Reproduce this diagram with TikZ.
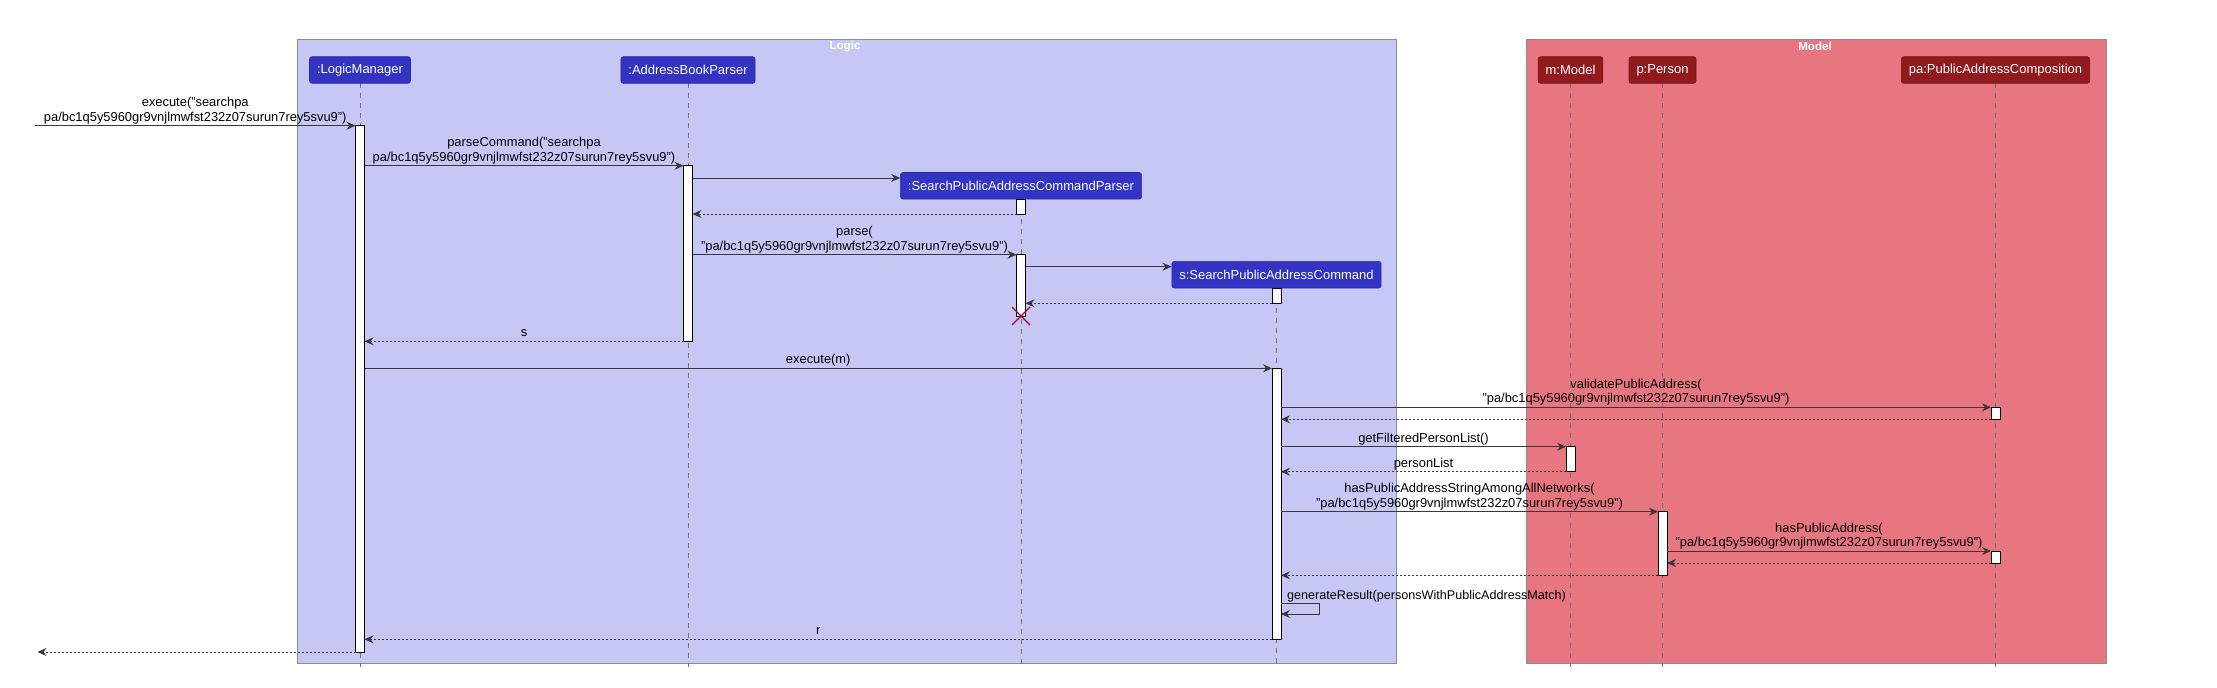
\documentclass[tikz,border=0pt]{standalone}
\usepackage{fontspec}
\setmainfont{Liberation Sans}
\usetikzlibrary{arrows.meta}
\definecolor{logicbg}{HTML}{C7C7F5}
\definecolor{modelbg}{HTML}{E87680}
\definecolor{groupborder}{HTML}{8A8A9A}
\definecolor{logicp}{HTML}{3333C4}
\definecolor{logicpd}{HTML}{2A2AA8}
\definecolor{modelp}{HTML}{911A1E}
\definecolor{modelpd}{HTML}{7A1418}
\definecolor{lifec}{HTML}{707070}
\definecolor{msgc}{HTML}{383838}
\definecolor{destroyc}{HTML}{A80036}
\begin{document}
\begin{tikzpicture}[x=1pt,y=-1pt,
  grp/.style={draw=groupborder, line width=0.8pt},
  grplbl/.style={text=white, font=\bfseries\fontsize{11.6}{12}\selectfont, inner sep=0pt},
  part/.style={rounded corners=2.5pt, text=white, inner xsep=7.5pt, inner ysep=0pt, minimum height=26.6pt, line width=0.6pt, font=\fontsize{13}{15}\selectfont},
  lpart/.style={part, fill=logicp, draw=logicpd},
  mpart/.style={part, fill=modelp, draw=modelpd},
  life/.style={draw=lifec, dash pattern=on 5pt off 5pt, line width=0.8pt},
  act/.style={draw=black, fill=white, line width=0.8pt},
  msg/.style={draw=msgc, line width=1pt, -{Stealth[length=9pt,width=8pt,inset=3pt]}},
  ret/.style={msg, dash pattern=on 2pt off 2pt},
  lbl/.style={font=\fontsize{12.9}{14.3}\selectfont, align=center, inner sep=1pt, text depth=3pt, above},
  destroy/.style={draw=destroyc, line width=1.3pt}
]
\useasboundingbox (0,0) rectangle (2217,688);
% groups
\fill[logicbg] (297,39) rectangle (1396,663);
\draw[grp] (297,39) rectangle (1396,663);
\fill[modelbg] (1526,39) rectangle (2106,663);
\draw[grp] (1526,39) rectangle (2106,663);
\node[grplbl] (glogic) at (845,46.7) {Logic};
\node[grplbl] (gmodel) at (1815,46.7) {Model};
% lifelines
\draw[life] (360,83.3) -- (360,667);
\draw[life] (688,83.3) -- (688,667);
\draw[life] (1021,199.3) -- (1021,667);
\draw[life] (1276.5,288) -- (1276.5,667);
\draw[life] (1570.5,83.3) -- (1570.5,667);
\draw[life] (1662.5,83.3) -- (1662.5,667);
\draw[life] (1995.5,83.3) -- (1995.5,667);
% participants
\node[lpart] (LM) at (360,70) {:LogicManager};
\node[lpart] (ABP) at (688,70) {:AddressBookParser};
\node[lpart] (SPACP) at (1021,185.8) {:SearchPublicAddressCommandParser};
\node[lpart] (SPAC) at (1276.5,274.7) {s:SearchPublicAddressCommand};
\node[mpart] (MM) at (1570.5,70) {m:Model};
\node[mpart] (PP) at (1662.5,70) {p:Person};
\node[mpart] (PAC) at (1995.5,70) {pa:PublicAddressComposition};
% activations
\draw[act] (355.5,125.7) rectangle (364.5,652);
\draw[act] (683.5,165.7) rectangle (692.5,341.3);
\draw[act] (1016.5,199.3) rectangle (1025.5,214);
\draw[act] (1016.5,254.7) rectangle (1025.5,316);
\draw[act] (1272,288) rectangle (1281,303.3);
\draw[act] (1272,368.3) rectangle (1281,639.3);
\draw[act] (1991,407.3) rectangle (2000,419.3);
\draw[act] (1566,446.7) rectangle (1575,471.7);
\draw[act] (1658,511.7) rectangle (1667,575.3);
\draw[act] (1991,551) rectangle (2000,563);
% destroy
\draw[destroy] (1012,307) -- (1030,325) (1030,307) -- (1012,325);
% message end points
\coordinate (a1) at (35,125.7);      \coordinate (b1) at (355.5,125.7);
\coordinate (a2) at (364.5,165.7);   \coordinate (b2) at (683.5,165.7);
\coordinate (a3) at (692.5,178);     \coordinate (b3) at (SPACP.west |- a3);
\coordinate (a4) at (1016.5,214);    \coordinate (b4) at (692.5,214);
\coordinate (a5) at (692.5,254.7);   \coordinate (b5) at (1016.5,254.7);
\coordinate (a6) at (1025.5,266.7);  \coordinate (b6) at (SPAC.west |- a6);
\coordinate (a7) at (1272,303.3);    \coordinate (b7) at (1025.5,303.3);
\coordinate (a8) at (683.5,341.3);   \coordinate (b8) at (364.5,341.3);
\coordinate (a9) at (364.5,368.3);   \coordinate (b9) at (1272,368.3);
\coordinate (a10) at (1281,407.3);   \coordinate (b10) at (1991,407.3);
\coordinate (a11) at (1991,419.3);   \coordinate (b11) at (1281,419.3);
\coordinate (a12) at (1281,446.7);   \coordinate (b12) at (1566,446.7);
\coordinate (a13) at (1566,471.7);   \coordinate (b13) at (1281,471.7);
\coordinate (a14) at (1281,511.7);   \coordinate (b14) at (1658,511.7);
\coordinate (a15) at (1667,551);     \coordinate (b15) at (1991,551);
\coordinate (a16) at (1991,563);     \coordinate (b16) at (1667,563);
\coordinate (a17) at (1658,575.3);   \coordinate (b17) at (1281,575.3);
\coordinate (a18) at (1281,603.3);   \coordinate (b18) at (1281,614);
\coordinate (c18) at (1319,603.3);   \coordinate (d18) at (1319,614);
\coordinate (a19) at (1272,639.3);   \coordinate (b19) at (364.5,639.3);
\coordinate (a20) at (355.5,652);    \coordinate (b20) at (37.5,652);
% messages
\draw[msg] (a1) -- node[lbl] (t1) {execute("searchpa\\pa/bc1q5y5960gr9vnjlmwfst232z07surun7rey5svu9")} (b1);
\draw[msg] (a2) -- node[lbl] (t2) {parseCommand("searchpa\\pa/bc1q5y5960gr9vnjlmwfst232z07surun7rey5svu9")} (b2);
\draw[msg] (a3) -- (b3);
\draw[ret] (a4) -- (b4);
\draw[msg] (a5) -- node[lbl] (t5) {parse(\\"pa/bc1q5y5960gr9vnjlmwfst232z07surun7rey5svu9")} (b5);
\draw[msg] (a6) -- (b6);
\draw[ret] (a7) -- (b7);
\draw[ret] (a8) -- node[lbl] (t8) {s} (b8);
\draw[msg] (a9) -- node[lbl] (t9) {execute(m)} (b9);
\draw[msg] (a10) -- node[lbl] (t10) {validatePublicAddress(\\"pa/bc1q5y5960gr9vnjlmwfst232z07surun7rey5svu9")} (b10);
\draw[ret] (a11) -- (b11);
\draw[msg] (a12) -- node[lbl] (t12) {getFilteredPersonList()} (b12);
\draw[ret] (a13) -- node[lbl] (t13) {personList} (b13);
\draw[msg] (a14) -- node[lbl] (t14) {hasPublicAddressStringAmongAllNetworks(\\"pa/bc1q5y5960gr9vnjlmwfst232z07surun7rey5svu9")} (b14);
\draw[msg] (a15) -- node[lbl] (t15) {hasPublicAddress(\\"pa/bc1q5y5960gr9vnjlmwfst232z07surun7rey5svu9")} (b15);
\draw[ret] (a16) -- (b16);
\draw[ret] (a17) -- (b17);
\draw[msg] (a18) -- (c18) -- (d18) -- (b18);
\node[font=\fontsize{12.6}{14.3}\selectfont, inner sep=0pt, anchor=base west] (t18) at (1287,599) {generateResult(personsWithPublicAddressMatch)};
\draw[ret] (a19) -- node[lbl] (t19) {r} (b19);
\draw[ret] (a20) -- (b20);
\end{tikzpicture}
\end{document}
